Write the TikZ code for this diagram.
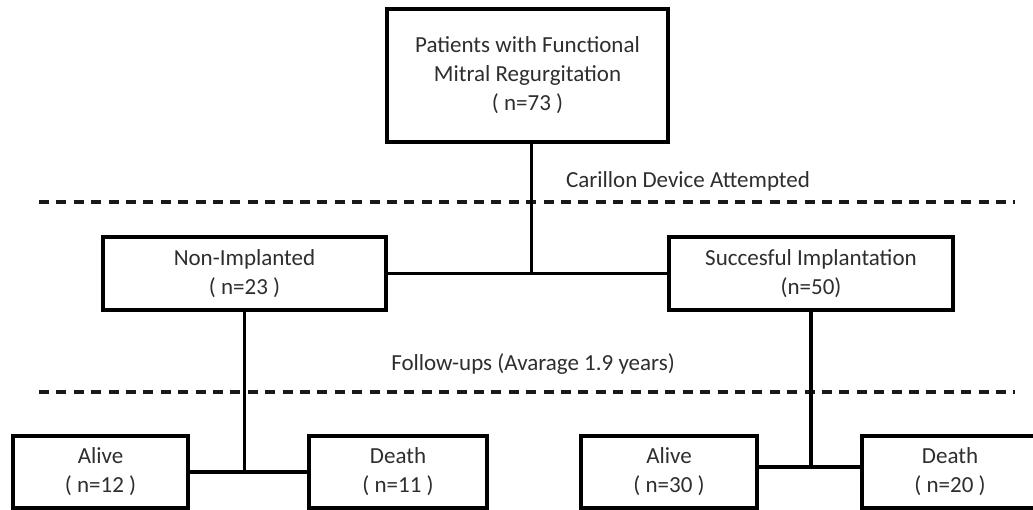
\documentclass[tikz,border=0pt]{standalone}
\usepackage{fontspec}
\setmainfont{Carlito}

\begin{document}
\begin{tikzpicture}[x=1pt,y=-1pt,
      flowbox/.style={rectangle, draw=black, line width=4pt, fill=white,
        text=black!82, align=center, inner sep=0pt,
        font=\fontsize{23}{29}\selectfont},
      stagelabel/.style={text=black!82, font=\fontsize{23}{29}\selectfont},
      link/.style={line width=3.6pt},
      divider/.style={line width=3.4pt, black!90, dash pattern=on 10pt off 7.4pt}]

    \useasboundingbox (0,0) rectangle (1033,510);

    \node[flowbox, minimum width=281pt, minimum height=133pt] (pat) at (527.5,75.5) {Patients with Functional\\Mitral Regurgitation\\( n=73 )};

    \node[flowbox, minimum width=283pt, minimum height=73pt] (non) at (244.5,273.5) {Non-Implanted\\( n=23 )};
    \node[flowbox, minimum width=284pt, minimum height=73pt] (suc) at (811,273.5) {Succesful Implantation\\(n=50)};

    \node[flowbox, minimum width=175pt, minimum height=72pt] (alive1) at (100.5,472) {Alive\\( n=12 )};
    \node[flowbox, minimum width=178pt, minimum height=72pt] (death1) at (398,472) {Death\\( n=11 )};
    \node[flowbox, minimum width=176pt, minimum height=72pt] (alive2) at (669,472) {Alive\\( n=30 )};
    \node[flowbox, minimum width=176pt, minimum height=72pt] (death2) at (950,472) {Death\\( n=20 )};

    \node[stagelabel] (attempt) at (688,181) {Carillon Device Attempted};
    \node[stagelabel] (follow) at (533,364) {Follow-ups (Avarage 1.9 years)};

    \coordinate (d1l) at (39,202);
    \coordinate (d1r) at (1015,202);
    \coordinate (d2l) at (39,392);
    \coordinate (d2r) at (1015,392);

    \coordinate (tjoin) at ([xshift=4pt]pat.south);
    \coordinate (rjoin) at ([yshift=5pt]alive2.east);
    \coordinate (rjoin2) at ([yshift=5pt]death2.west);

    \draw[divider] (d1l) -- (d1r);
    \draw[divider] (d2l) -- (d2r);

    \draw[link] (tjoin) -- (tjoin |- non.east);
    \draw[link] (non.east) -- (suc.west);

    \draw[link] (non.south) -- (non.south |- alive1.east);
    \draw[link] (alive1.east) -- (death1.west);

    \draw[link] (suc.south) -- (suc.south |- rjoin);
    \draw[link] (rjoin) -- (rjoin2);

  \end{tikzpicture}
\end{document}
